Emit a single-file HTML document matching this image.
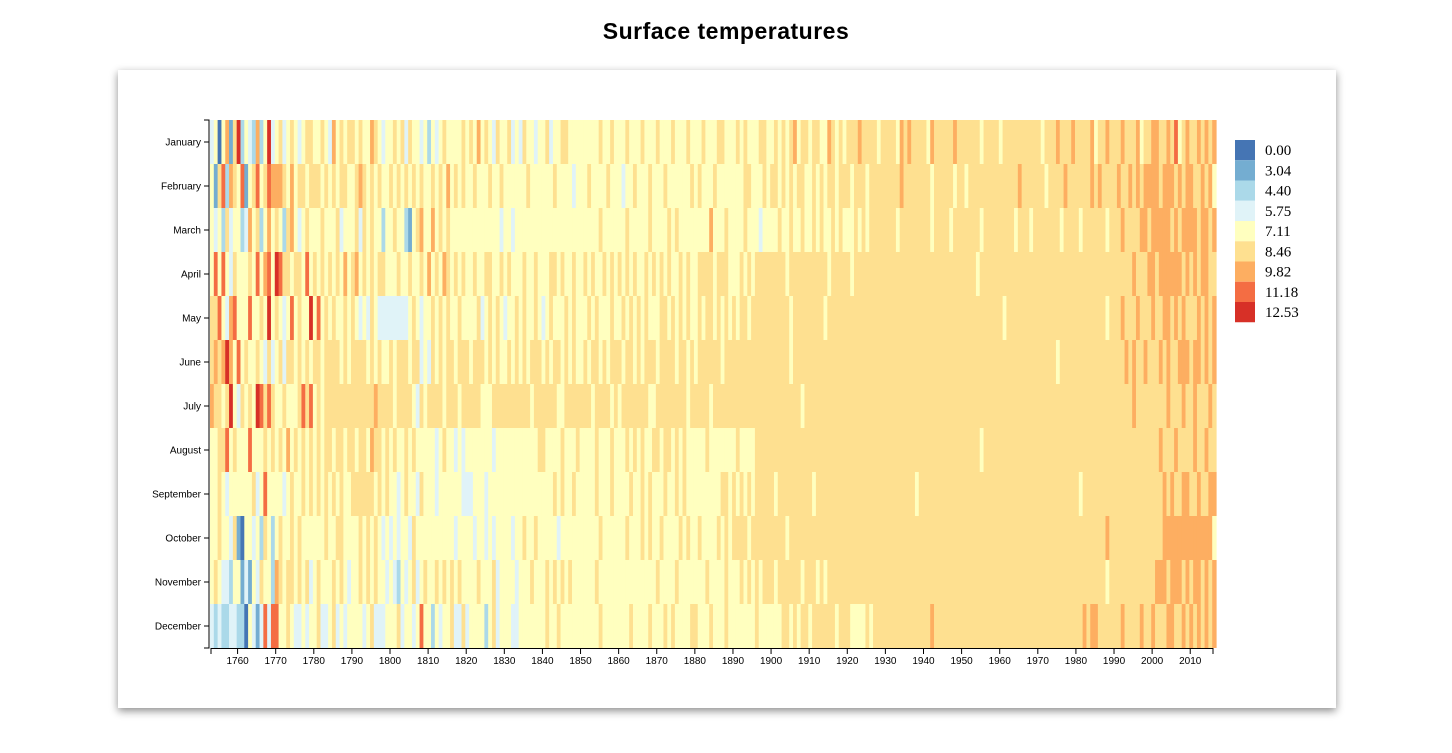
<!DOCTYPE html>
<html><head><meta charset="utf-8"><style>
body{margin:0;background:#fff;width:1452px;height:753px;overflow:hidden;font-family:"Liberation Sans",sans-serif}
#card{position:absolute;left:118px;top:70px;width:1218px;height:638px;background:#fff;box-shadow:0 3px 8px rgba(0,0,0,0.45)}
#title{position:absolute;left:0;width:1452px;top:18px;text-align:center;font-size:23px;font-weight:bold;letter-spacing:0.5px}
svg{position:absolute;left:0;top:0}
</style></head><body>
<div id="title">Surface temperatures</div>
<div id="card"></div>
<svg id="chart" width="1452" height="753"></svg>
<script>
const months=["January","February","March","April","May","June","July","August","September","October","November","December"];
const startYear=1753;
const xTicks=[1760,1770,1780,1790,1800,1810,1820,1830,1840,1850,1860,1870,1880,1890,1900,1910,1920,1930,1940,1950,1960,1970,1980,1990,2000,2010];
const legendLabels=["0.00","3.04","4.40","5.75","7.11","8.46","9.82","11.18","12.53"];
const colors=["#4575b4","#74add1","#abd9e9","#e0f3f8","#ffffbf","#fee090","#fdae61","#f46d43","#d73027"];
// class index (0-8) per year, per month
const jan=["3404615","8243262483","4534543455","4454364545","5454465434","4545354434","2434544445","4546454354","4534354434","4534455444","4444454454","4454445444","5444544454","4454445544","4545444554","4545456455","4554465454","5556555545","5554656555","5465555565","5555545555","4555555555","5455565556","5555645565","5565556455","6655657456","5565656"].join("");
const feb=["4157265","4714574576","6654645545","5545454554","4565454544","5454545454","4545464545","4454445445","4444445444","4445444434","4454444544","4344544454","4454444445","4544454444","4445544454","5545454554","4545455455","5455545555","5555655555","5545555545","5455555555","5555565555","5545555655","5555656555","5655656566","6656665656","6556564"].join("");
const mar=["4342534","4236452464","5425643454","4454445344","4535454424","4544214564","4645454444","4444444443","4434444444","4444444444","4444454444","4454444454","4445454444","4444644454","4445444344","4454454454","4545445454","4454545555","5554555555","5545555455","5555545555","5555455545","5555554555","5455555545","5565555665","6666656566","6656656"].join("");
const apr=["4747435","4445474674","8755455474","5454545464","5645454554","4454454454","6454654545","4454455445","4544454454","4455454454","4545445454","5454544545","4545445454","4555545554","4454545555","5555455555","5555545555","5455555555","5555555555","5555555555","5555455555","5555555555","5555555555","5555555555","5555565556","6566666656","5656655"].join("");
const may=["5574367","4447445484","5434745448","4745454454","5434354333","3333345434","4545454454","4445345454","3445454454","3454445454","4454544454","4545454544","4554545454","4545545454","5455455555","5555545555","5555455555","5555555555","5555555555","5555555555","5555555555","5455555555","5555555555","5555555545","5565556555","6556656565","5565656"].join("");
const jun=["5656864","7454454353","4535545454","5545555454","5555454544","5455545534","3545455455","5455545454","4545454555","4545545454","4545545455","5455454555","4555545545","4555555455","5555555555","5555545555","5555555555","5555555555","5555555555","5555555555","5555555555","5555555555","5555545555","5555555555","5556565565","5565655666","5665656"].join("");
const jul=["6554584","3545487575","4454445757","4545555555","5555556555","5455554354","5555455545","5555444555","5555555455","5555445555","5554555545","4555555544","5555555545","5555455555","5555555555","5555555545","5555555555","5555555555","5555555555","5555555555","5555555555","5555555555","5555555555","5555555555","5555565555","5555655565","5655565"].join("");
const aug=["4455745","4447444545","4546454545","4545545545","5455465545","4544545444","4434544343","4444444344","4444444445","5444454445","4444544454","4454545445","5455454544","4445444444","4544445555","5555555555","5555555555","5555555555","5555555555","5555555555","5555545555","5555555555","5555555555","5555555555","5555555555","5565556555","5655655"].join("");
const sep=["4454344","4444534744","4434544545","4545454544","5555554545","4434544354","4434444443","3344434444","4444444444","4445454454","4444544454","4445445454","4454454544","4444444554","5454545555","5455555555","5455555555","5555555555","5555555545","5555555555","5555555555","5555555555","5555555555","5455555555","5555555555","5556565566","5565566"].join("");
const oct=["4454435","1044342542","4544545444","4445445544","4454545434","3434435444","4444444344","4434434344","4434454454","4444344444","4444454444","4454445454","4544445454","4544445454","5555455555","5555455555","5555555555","5555555555","5555555555","5555555555","5555555555","5555555555","5555555555","5555555565","5555555555","5556666666","6666664"].join("");
const nov=["4543324","4131435442","6545545453","4544454543","4454545443","4324345345","4454545454","4445444534","4443444544","4545454544","4444544444","4444444444","5444454444","4445444454","4454545455","5455555545","5545455555","5555555555","5555555555","5555555555","5555555555","5555555555","5555555555","5555555545","5555555555","5666566656","5665656"].join("");
const dec=["3232233","2204313737","7445433434","4533453434","4443453334","4453443474","4243445335","3444424534","4433444444","4544544444","4444454444","4445444454","4454544445","5444544454","4444445444","4445545455","4555555455","5444454555","5555555555","5565555555","5555555555","5555555555","5555555555","5565665555","5565555655","6555665565","6565656"].join("");
const series=[jan,feb,mar,apr,may,jun,jul,aug,sep,oct,nov,dec];

const NS="http://www.w3.org/2000/svg";
const svg=document.getElementById('chart');
const L=210,T=120,W=1006,H=528,nYears=264;
const bw=W/nYears,bh=H/12;
const x=y=>L+(y-startYear)*bw;
const yS=i=>T+i*bh;
function mk(t,a){const e=document.createElementNS(NS,t);for(const k in a)e.setAttribute(k,a[k]);svg.appendChild(e);return e;}
series.forEach((s,m)=>{
  for(let i=0;i<s.length;i++){
    const r=mk('rect',{x:x(startYear+i),y:yS(m),width:bw+0.6,height:bh,fill:colors[+s[i]]});
    
    
  }
});
const ya=mk('path',{d:`M204,${T}H209V${T+H}H204`,stroke:'#000',fill:'none','stroke-width':1});


months.forEach((mn,i)=>{
  const cy=yS(i)+bh/2;
  mk('line',{x1:204,x2:209,y1:cy,y2:cy,stroke:'#000'});
  const t=mk('text',{x:201,y:cy+3.5,'text-anchor':'end','font-size':10,'font-family':'Liberation Sans, sans-serif'});
  t.textContent=mn;
  
  
});
const xa=mk('path',{d:`M${L+1},654V648.5H${L+W-3}V654`,stroke:'#000',fill:'none','stroke-width':1});


xTicks.forEach(yr=>{
  const cx=x(yr)+bw/2-1;
  mk('line',{x1:cx,x2:cx,y1:648,y2:654,stroke:'#000'});
  const t=mk('text',{x:cx,y:664,'text-anchor':'middle','font-size':10,'font-family':'Liberation Sans, sans-serif'});
  t.textContent=yr;
  
  
});
legendLabels.forEach((lb,i)=>{
  const r=mk('rect',{x:1235,y:140+i*20.25,width:20,height:20.25,fill:colors[i]});
  
  
  const t=mk('text',{x:1265,y:155+i*20.25,'font-size':15,'font-family':'Liberation Serif, serif'});
  t.textContent=lb;
  
  
});
</script>
</body></html>
